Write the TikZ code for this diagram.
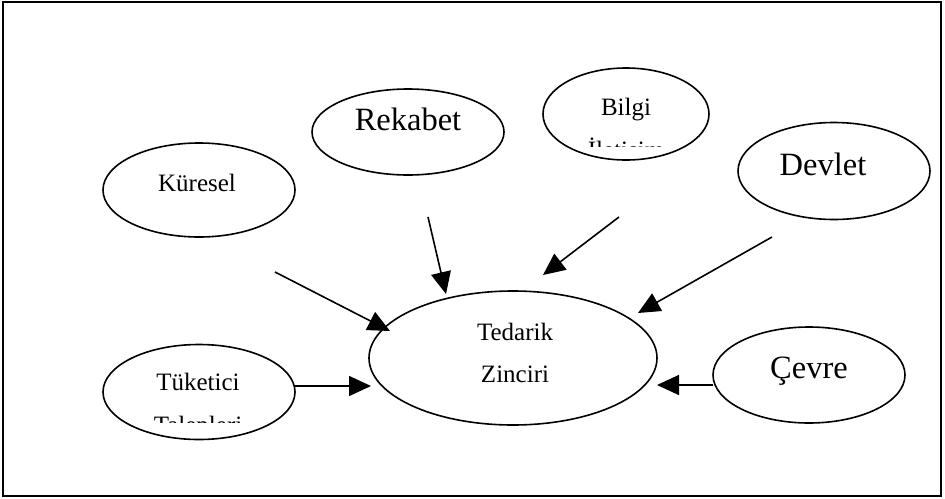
\documentclass[tikz,border=0pt]{standalone}
\usepackage{fontspec}
\setmainfont{Liberation Serif}
\usetikzlibrary{shapes.geometric,arrows.meta}
\begin{document}
\begin{tikzpicture}[x=1pt,y=-1pt,
  oval/.style={draw,line width=1.6pt,ellipse,inner sep=0pt},
  small/.style={font=\fontsize{25}{28}\selectfont,inner sep=0pt,anchor=base},
  big/.style={font=\fontsize{32.5}{36}\selectfont,inner sep=0pt,anchor=base},
  arr/.style={line width=1.6pt,-{Triangle[length=22pt,width=20pt]}}]
\useasboundingbox (0,0) rectangle (945,498);
\draw[line width=2.6pt] (3,2) rectangle (941,496);
% ellipses
\node[oval,minimum width=192pt,minimum height=94pt] (kur) at (199,190) {};
\node[oval,minimum width=192pt,minimum height=86pt] (rek) at (408,132) {};
\node[oval,minimum width=166pt,minimum height=92pt] (bil) at (626,114) {};
\node[oval,minimum width=192pt,minimum height=97pt] (dev) at (834,171) {};
\node[oval,minimum width=288pt,minimum height=134pt] (ted) at (513,358) {};
\node[oval,minimum width=192pt,minimum height=95pt] (tuk) at (199,392) {};
\node[oval,minimum width=192pt,minimum height=96pt] (cev) at (809,375) {};
% texts
\node[small] (tkur) at (197,191) {Küresel};
\node[big] (trek) at (408,130) {Rekabet};
\node[small] (tbil) at (626,115) {Bilgi};
\begin{scope}
\clip (560,120) rectangle (700,146);
\node[small] (tbil2) at (626,158) {İletişim};
\end{scope}
\node[big] (tdev) at (823,175) {Devlet};
\node[small] (tted) at (515,340) {Tedarik};
\node[small] (tted2) at (515,382) {Zinciri};
\node[small] (ttuk) at (198,390) {Tüketici};
\begin{scope}
\clip (120,400) rectangle (280,422);
\node[small] (ttuk2) at (198,433) {Talepleri};
\end{scope}
\node[big] (tcev) at (809,378) {Çevre};
% connector ends
\coordinate (a1) at (275,272); \coordinate (b1) at (390,331);
\coordinate (a2) at (428,217); \coordinate (b2) at (446,294);
\coordinate (a3) at (619,217); \coordinate (b3) at (543,275);
\coordinate (a4) at (772,237); \coordinate (b4) at (638,313);
\coordinate (a5) at (295,386); \coordinate (b5) at (371,386);
\coordinate (a6) at (713,385); \coordinate (b6) at (657,385);
\draw[arr] (a1) -- (b1);
\draw[arr] (a2) -- (b2);
\draw[arr] (a3) -- (b3);
\draw[arr] (a4) -- (b4);
\draw[arr] (a5) -- (b5);
\draw[arr] (a6) -- (b6);
\end{tikzpicture}
\end{document}
